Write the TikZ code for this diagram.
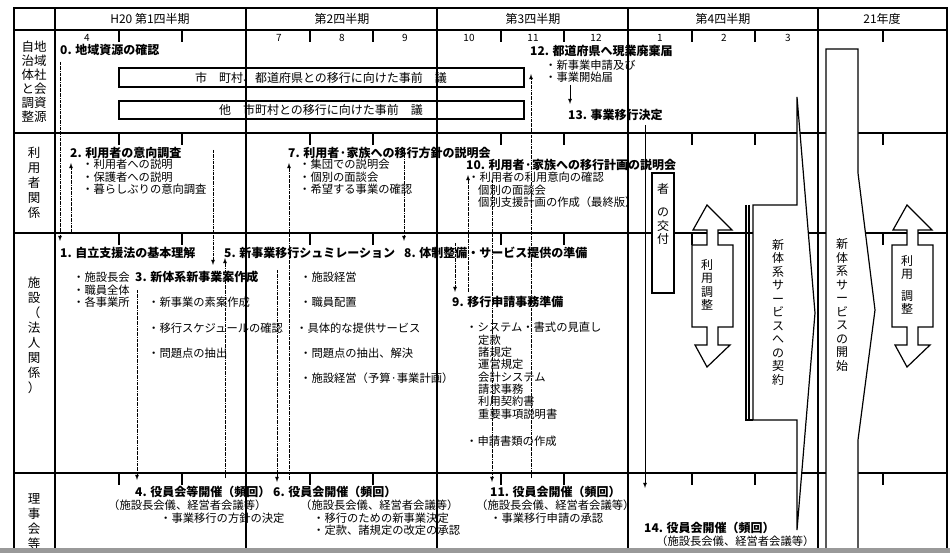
\documentclass[tikz,border=0pt]{standalone}
\usepackage{fontspec}
\setmainfont{Noto Sans CJK JP}
\tikzset{
  txt/.style={anchor=west, inner sep=0pt, font=\fontsize{11.3}{12.3}\selectfont, align=left},
  hd/.style={txt, font=\fontsize{12}{13}\selectfont\bfseries},
  vtxt/.style={inner sep=0pt, font=\fontsize{12}{13.5}\selectfont, align=center},
  link/.style={densely dashdotted, thick, -latex},
  frame/.style={line width=1.2pt}
}
\begin{document}
\begin{tikzpicture}[x=1pt, y=-1pt]
\useasboundingbox (0,0) rectangle (950,553);
\fill[white] (0,0) rectangle (950,553);
% table
\draw[frame] (14,8) rectangle (947,560);
\foreach \y in {30,133,233,473} \draw[frame] (14,\y) -- (947,\y);
\foreach \x in {55,246,437,628,818} \draw[frame] (\x,8) -- (\x,560);
\foreach \x in {119,182,310,373,501,564,692,755,883}
  \foreach \y in {30,133,233,473} \draw[frame] (\x,\y) -- ++(0,12);
% header
\node[vtxt] (h1) at (150,19) {H20\ 第1四半期};
\node[vtxt] (h2) at (342,19) {第2四半期};
\node[vtxt] (h3) at (533,19) {第3四半期};
\node[vtxt] (h4) at (723,19) {第4四半期};
\node[vtxt] (h5) at (882,19) {21年度};
\foreach \m/\x in {4/87,7/279,8/342,9/405,10/469,11/533,12/596,1/660,2/724,3/788}
  \node[vtxt, font=\fontsize{10}{11}\selectfont] (m\m) at (\x,38) {\m};
% row labels
\node[vtxt, font=\fontsize{12.5}{14}\selectfont] (r1) at (34,82) {自地\\治域\\体社\\と会\\調資\\整源};
\node[vtxt, font=\fontsize{12.5}{15}\selectfont] (r2) at (34,183) {利\\用\\者\\関\\係};
\node[vtxt, font=\fontsize{12.5}{15}\selectfont] (r3) at (34,335) {施\\設\\（\\法\\人\\関\\係\\）};
\node[vtxt, font=\fontsize{12.5}{15}\selectfont] (r4) at (34,522) {理\\事\\会\\等};
% row 1
\node[hd] (t0) at (60,50) {0. 地域資源の確認};
\draw[frame] (119,68) rectangle (524,87);
\node[vtxt] (b1) at (321,78) {市\quad 町村、都道府県との移行に向けた事前\quad 議};
\draw[frame] (119,101) rectangle (524,119);
\node[vtxt] (b2) at (321,110) {他\quad 市町村との移行に向けた事前\quad 議};
\node[hd] (t12) at (530,51) {12. 都道府県へ現業廃棄届};
\node[txt] (t12a) at (545,71) {・新事業申請及び\\・事業開始届};
\node[hd] (t13) at (568,115) {13. 事業移行決定};
\draw[thick, -latex] (570,85) -- (570,104);
% row 2
\node[hd] (t2) at (70,153) {2. 利用者の意向調査};
\node[txt] (t2a) at (82,177) {・利用者への説明\\・保護者への説明\\・暮らしぶりの意向調査};
\node[hd] (t7) at (288,153) {7. 利用者·家族への移行方針の説明会};
\node[txt] (t7a) at (299,177) {・集団での説明会\\・個別の面談会\\・希望する事業の確認};
\node[hd] (t10) at (466,165) {10. 利用者·家族への移行計画の説明会};
\node[txt] (t10a) at (468,177) {・利用者の利用意向の確認};
\node[txt] (t10b) at (478,196) {個別の面談会\\個別支援計画の作成（最終版）};
% row 3
\node[hd] (t1) at (60,253) {1. 自立支援法の基本理解};
\node[hd] (t5) at (224,253) {5. 新事業移行シュミレーション};
\node[hd] (t8) at (404,253) {8. 体制整備・サービス提供の準備};
\node[txt] (t1a) at (73,290) {・施設長会\\・職員全体\\・各事業所};
\node[hd] (t3) at (135,277) {3. 新体系新事業案作成};
\node[txt] (t3a) at (148,302) {・新事業の素案作成};
\node[txt] (t3b) at (148,328) {・移行スケジュールの確認};
\node[txt] (t3c) at (148,353) {・問題点の抽出};
\node[txt] (t5a) at (300,277) {・施設経営};
\node[txt] (t5b) at (300,302) {・職員配置};
\node[txt] (t5c) at (296,328) {・具体的な提供サービス};
\node[txt] (t5d) at (300,353) {・問題点の抽出、解決};
\node[txt] (t5e) at (300,378) {・施設経営（予算·事業計画）};
\node[hd] (t9) at (452,302) {9. 移行申請事務準備};
\node[txt] (t9a) at (466,327) {・システム・書式の見直し};
\node[txt] (t9b) at (478,377) {定款\\諸規定\\運営規定\\会計システム\\請求事務\\利用契約書\\重要事項説明書};
\node[txt] (t9c) at (466,441) {・申請書類の作成};
% row 4
\node[hd] (t4) at (135,492) {4. 役員会等開催（頻回）};
\node[txt] (t4a) at (108,505) {（施設長会儀、経営者会議等）};
\node[txt] (t4b) at (160,518) {・事業移行の方針の決定};
\node[hd] (t6) at (273,492) {6. 役員会開催（頻回）};
\node[txt] (t6a) at (300,505) {（施設長会儀、経営者会議等）};
\node[txt] (t6b) at (313,524) {・移行のための新事業決定\\・定款、諸規定の改定の承認};
\node[hd] (t11) at (490,492) {11. 役員会開催（頻回）};
\node[txt] (t11a) at (476,505) {（施設長会儀、経営者会議等）};
\node[txt] (t11b) at (490,518) {・事業移行申請の承認};
\node[hd] (t14) at (644,528) {14. 役員会開催（頻回）};
\node[txt] (t14a) at (656,541) {（施設長会儀、経営者会議等）};
% dashed links
\draw[link] (60,62) -- (60,241);
\draw[link] (71,233) -- (71,163);
\draw[link] (213,150) -- (213,265);
\draw[link] (225,478) -- (225,258);
\draw[link] (137,290) -- (137,480);
\draw[link] (277,270) -- (277,482);
\draw[link] (289,480) -- (289,163);
\draw[link] (404,150) -- (404,241);
\draw[link] (455,243) -- (455,292);
\draw[link] (468,292) -- (468,175);
\draw[link] (492,180) -- (492,482);
\draw[link] (531,478) -- (531,74);
\draw[thick, -latex] (645,125) -- (645,488);
% Q4 shapes
\draw[frame, fill=white] (652,173) rectangle (674,293);
\node[vtxt] (ka) at (663,214) {者\\[10pt]の\\交\\付};
\foreach \cx/\nm in {707/ua,907/ub}{
  \draw[frame, fill=white] (\cx,205) -- ++(25,25) -- ++(-14,0) -- ++(0,15) -- ++(15,0)
    -- ++(0,82) -- ++(-15,0) -- ++(0,18) -- ++(12,0) -- (\cx,367) -- ++(-12,-22)
    -- ++(12,0) -- ++(0,-18) -- ++(-15,0) -- ++(0,-82) -- ++(15,0) -- ++(0,-15)
    -- ++(-14,0) -- cycle;
}
\node[vtxt] (u1) at (707,285) {利\\用\\調\\整};
\node[vtxt] (u2) at (907,285) {利\\用\\[8pt]調\\整};
\draw[frame, fill=white] (753,205) -- (797,205) -- (797,97) -- (815,313) -- (797,530)
  -- (797,420) -- (753,420) -- cycle;
\draw[frame] (746,205) -- (746,420) -- (753,420) (749,205) -- (749,420);
\node[vtxt] (nk) at (778,312) {新\\体\\系\\サ\\ー\\ビ\\ス\\へ\\の\\契\\約};
\draw[frame, fill=white] (826,553) -- (826,49) -- (858,49) -- (858,173) -- (875,310)
  -- (858,440) -- (858,553);
\node[vtxt] (ns) at (842,305) {新\\体\\系\\サ\\ー\\ビ\\ス\\の\\開\\始};
% bottom bar
\fill[gray!80] (0,548) rectangle (950,553);
\end{tikzpicture}
\end{document}
